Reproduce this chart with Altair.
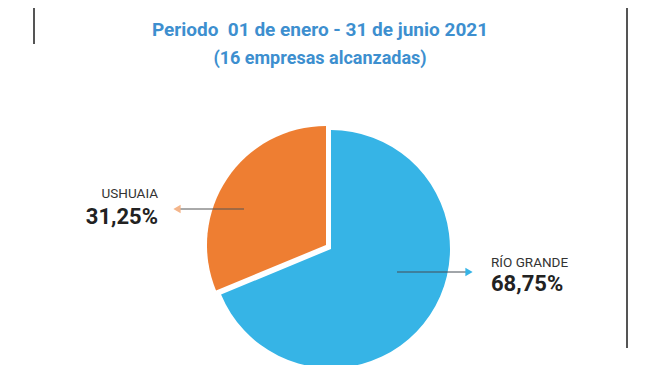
import math
import altair as alt
import pandas as pd

cities = ["RÍO GRANDE", "USHUAIA"]
shares = [68.75, 31.25]
share_labels = ["68,75%", "31,25%"]
order = [1, 2]
colors = ["#36b4e6", "#ee7e32"]

title_lines = [
    "Por empresas y ciudad",
    "Periodo\u00a0\u00a001 de enero - 31 de junio 2021",
    "(16 empresas alcanzadas)",
]

df = pd.DataFrame({"city": cities, "value": shares, "label": share_labels, "order": order})

FONT = "Roboto, sans-serif"
TITLE_BLUE = "#3d8fcf"
M = 8  # page margin


def px(x):
    return x - M


base = (
    alt.Chart(df)
    .transform_window(cum="sum(value)", sort=[alt.SortField("order")], frame=[None, 0])
    .transform_calculate(start="datum.cum - datum.value")
)

theta_scale = alt.Scale(domain=[0, 100], range=[0, 2 * math.pi])
color_scale = alt.Scale(domain=cities, range=colors)

cx, cy, R = px(331), px(249), 119


def arc(city, dx, dy):
    return (
        base.transform_filter(alt.datum.city == city)
        .mark_arc(outerRadius=R, xOffset=dx, yOffset=dy)
        .encode(
            theta=alt.Theta("start:Q", scale=theta_scale),
            theta2="cum:Q",
            color=alt.Color("city:N", scale=color_scale, legend=None),
            x=alt.value(cx),
            y=alt.value(cy),
        )
    )


arc_blue = arc(cities[0], 0, 0)
arc_orange = arc(cities[1], -5, -4)


def name_text(city, x, y, align):
    return (
        alt.Chart(df)
        .transform_filter(alt.datum.city == city)
        .mark_text(align=align, baseline="alphabetic", font=FONT, fontSize=13.5, color="#333333")
        .encode(text="city:N", x=alt.value(px(x)), y=alt.value(px(y)))
    )


def pct_text(city, x, y, align):
    return (
        alt.Chart(df)
        .transform_filter(alt.datum.city == city)
        .mark_text(align=align, baseline="alphabetic", font=FONT, fontSize=22, fontWeight="bold", color="#222222")
        .encode(text="label:N", x=alt.value(px(x)), y=alt.value(px(y)))
    )


lab_u1 = name_text(cities[1], 158, 198, "right")
lab_u2 = pct_text(cities[1], 158, 224, "right")
lab_r1 = name_text(cities[0], 491, 267, "left")
lab_r2 = pct_text(cities[0], 491, 291, "left")

# arrows
one = pd.DataFrame({"k": [0]})
rule_o = alt.Chart(one).mark_rule(color="#555555", strokeWidth=1).encode(
    x=alt.value(px(180)), x2=alt.value(px(244)), y=alt.value(px(209))
)
head_o = alt.Chart(one).mark_point(shape="triangle-left", filled=True, size=70, color="#f4b58a", opacity=1).encode(
    x=alt.value(px(177)), y=alt.value(px(209))
)
rule_b = alt.Chart(one).mark_rule(color="#444c55", strokeWidth=1).encode(
    x=alt.value(px(397)), x2=alt.value(px(467)), y=alt.value(px(272))
)
head_b = alt.Chart(one).mark_point(shape="triangle-right", filled=True, size=70, color="#36b4e6", opacity=1).encode(
    x=alt.value(px(469)), y=alt.value(px(272))
)

# frame lines
vline_l = alt.Chart(one).mark_rule(color="#555555", strokeWidth=2).encode(
    x=alt.value(px(34)), y=alt.value(px(0)), y2=alt.value(px(44))
)
vline_r = alt.Chart(one).mark_rule(color="#555555", strokeWidth=2).encode(
    x=alt.value(px(627)), y=alt.value(px(0)), y2=alt.value(px(348))
)

# titles
t_df = pd.DataFrame({"t": title_lines, "i": [0, 1, 2]})
t1 = alt.Chart(t_df).transform_filter(alt.datum.i == 0).mark_text(
    align="center", baseline="alphabetic", font=FONT, fontSize=26, fontWeight="bold", color=TITLE_BLUE
).encode(text="t:N", x=alt.value(px(320)), y=alt.value(px(3)))
t2 = alt.Chart(t_df).transform_filter(alt.datum.i == 1).mark_text(
    align="center", baseline="alphabetic", font=FONT, fontSize=19, fontWeight="bold", color=TITLE_BLUE
).encode(text="t:N", x=alt.value(px(320)), y=alt.value(px(36)))
t3 = alt.Chart(t_df).transform_filter(alt.datum.i == 2).mark_text(
    align="center", baseline="alphabetic", font=FONT, fontSize=18, fontWeight="bold", color=TITLE_BLUE
).encode(text="t:N", x=alt.value(px(320)), y=alt.value(px(64)))

chart = (
    alt.layer(
        vline_l, vline_r, t1, t2, t3,
        arc_blue, arc_orange,
        rule_o, head_o, rule_b, head_b,
        lab_u1, lab_u2, lab_r1, lab_r2,
    )
    .properties(width=644, height=357, autosize="none", padding=0, background="white")
    .configure_view(stroke=None)
)

chart.save("out.html", embed_options={"renderer": "svg", "actions": False})
